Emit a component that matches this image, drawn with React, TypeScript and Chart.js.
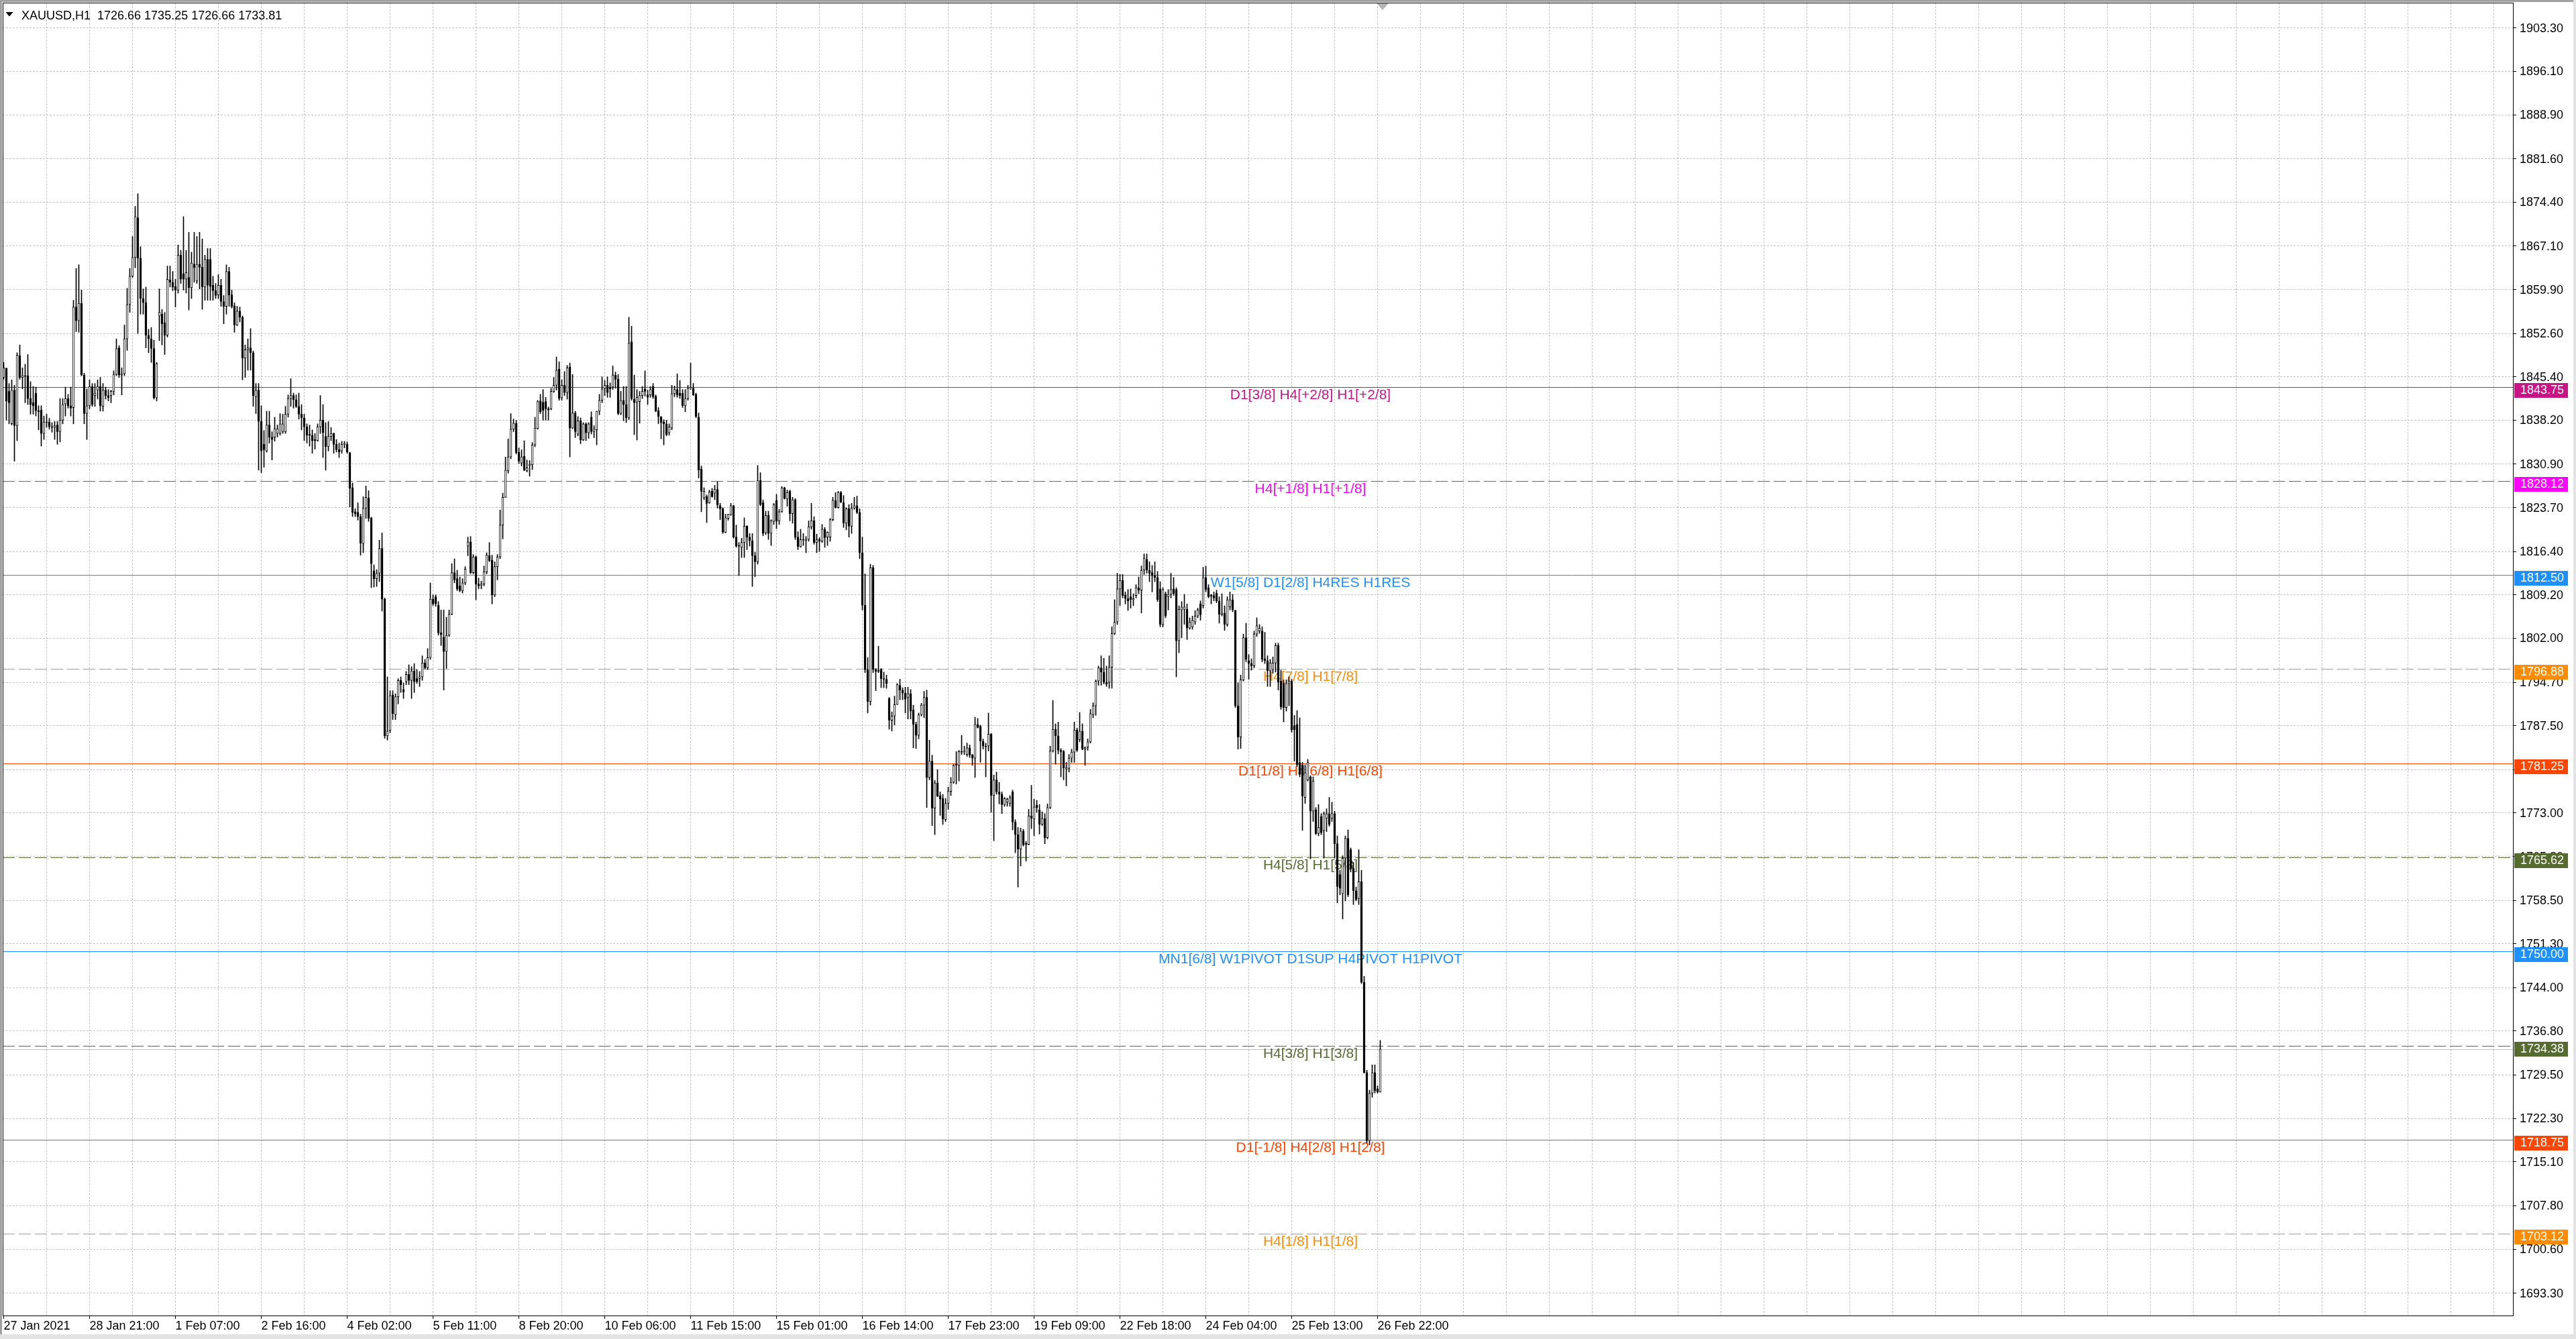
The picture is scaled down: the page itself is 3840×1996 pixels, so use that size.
import React, { useEffect, useRef } from 'react';
import { Chart, registerables } from 'chart.js';

Chart.register(...registerables);

const symbolTitle = 'XAUUSD,H1';

// Hourly OHLC, bar 0 = 27 Jan 2021 ... bar 513 = 26 Feb 2021 23:00
const opens = [
  1845.3, 1846.8, 1843.0, 1837.6, 1843.2, 1837.3, 1848.9, 1845.3, 1845.6, 1845.6,
  1841.8, 1841.1, 1842.7, 1839.8, 1839.9, 1836.0, 1837.9, 1837.9, 1837.1, 1837.0,
  1837.4, 1836.3, 1838.2, 1840.9, 1841.8, 1840.6, 1840.3, 1857.0, 1854.7, 1857.6,
  1845.7, 1839.3, 1840.6, 1843.8, 1842.3, 1843.2, 1843.8, 1840.5, 1843.2, 1842.3,
  1842.3, 1843.0, 1845.8, 1850.2, 1845.7, 1845.9, 1851.7, 1857.4, 1862.1, 1865.2,
  1871.8, 1865.1, 1858.4, 1857.7, 1852.3, 1851.7, 1850.1, 1841.9, 1855.5, 1855.8,
  1854.4, 1852.3, 1861.5, 1861.1, 1860.4, 1859.8, 1865.6, 1862.5, 1861.6, 1861.9,
  1860.2, 1864.1, 1861.3, 1864.1, 1863.6, 1860.3, 1864.9, 1864.9, 1860.6, 1859.7,
  1859.0, 1860.6, 1857.9, 1857.1, 1862.9, 1859.0, 1857.2, 1854.0, 1856.3, 1855.3,
  1848.5, 1849.9, 1850.2, 1849.4, 1842.1, 1843.2, 1838.0, 1834.2, 1833.1, 1837.4,
  1835.4, 1835.4, 1836.0, 1836.0, 1836.3, 1836.3, 1839.2, 1841.8, 1842.3, 1841.6,
  1840.5, 1839.2, 1838.6, 1837.1, 1835.9, 1835.7, 1835.0, 1834.8, 1837.1, 1838.2,
  1835.5, 1833.8, 1835.5, 1836.0, 1834.2, 1833.3, 1833.1, 1834.2, 1834.2, 1832.8,
  1827.0, 1823.0, 1822.9, 1822.2, 1817.7, 1823.6, 1825.3, 1822.0, 1813.2, 1811.9,
  1812.8, 1816.9, 1808.5, 1785.8, 1786.7, 1792.6, 1789.3, 1792.3, 1795.0, 1793.5,
  1794.8, 1796.0, 1795.0, 1796.6, 1795.3, 1795.3, 1795.6, 1797.9, 1797.1, 1798.8,
  1808.5, 1808.9, 1807.5, 1802.9, 1802.2, 1799.8, 1802.5, 1806.0, 1812.9, 1811.9,
  1810.7, 1809.9, 1811.2, 1817.3, 1818.0, 1812.9, 1815.5, 1811.0, 1810.8, 1811.0,
  1813.0, 1815.7, 1815.0, 1809.2, 1813.9, 1815.5, 1820.8, 1825.4, 1829.8, 1832.1,
  1836.7, 1837.7, 1832.9, 1831.1, 1832.2, 1829.8, 1830.7, 1830.8, 1834.1, 1836.8,
  1841.4, 1841.2, 1841.3, 1840.1, 1840.1, 1843.0, 1844.0, 1846.7, 1841.9, 1844.0,
  1842.8, 1847.0, 1836.9, 1839.4, 1835.9, 1838.1, 1834.9, 1837.6, 1836.1, 1838.7,
  1836.3, 1836.6, 1839.7, 1841.5, 1843.4, 1844.0, 1843.7, 1843.7, 1845.7, 1845.0,
  1839.3, 1841.5, 1840.8, 1838.6, 1851.2, 1841.7, 1841.2, 1841.3, 1842.3, 1843.4,
  1842.4, 1842.4, 1843.8, 1842.2, 1839.8, 1838.8, 1837.9, 1837.6, 1836.1, 1836.9,
  1842.6, 1843.3, 1842.7, 1842.7, 1840.6, 1841.8, 1843.5, 1843.5, 1842.5, 1838.7,
  1830.1, 1825.3, 1825.5, 1824.5, 1826.4, 1826.1, 1826.7, 1824.0, 1823.5, 1819.6,
  1821.9, 1822.5, 1824.0, 1818.8, 1817.4, 1817.1, 1817.9, 1820.6, 1818.8, 1818.2,
  1815.7, 1814.7, 1828.2, 1824.5, 1819.5, 1822.4, 1819.4, 1821.4, 1824.9, 1821.5,
  1823.0, 1827.0, 1825.1, 1826.4, 1822.7, 1825.0, 1818.8, 1817.2, 1818.4, 1818.2,
  1818.4, 1820.5, 1821.5, 1817.9, 1818.4, 1818.1, 1820.1, 1818.8, 1818.8, 1821.7,
  1824.9, 1823.7, 1826.2, 1824.5, 1821.1, 1823.5, 1820.6, 1823.6, 1824.0, 1822.9,
  1816.2, 1807.5, 1796.8, 1791.5, 1813.7, 1796.8, 1796.5, 1796.8, 1795.3, 1795.2,
  1792.0, 1788.4, 1789.1, 1791.0, 1794.2, 1793.4, 1792.9, 1792.2, 1792.8, 1790.1,
  1787.7, 1785.9, 1789.3, 1790.9, 1792.2, 1778.9, 1781.6, 1773.8, 1778.0, 1775.9,
  1775.4, 1771.9, 1774.6, 1776.6, 1778.1, 1781.1, 1780.9, 1783.2, 1783.2, 1782.7,
  1783.8, 1782.7, 1782.1, 1787.7, 1787.4, 1784.9, 1784.1, 1784.1, 1786.1, 1775.9,
  1778.5, 1776.5, 1776.1, 1774.4, 1774.8, 1774.6, 1776.5, 1771.5, 1769.4, 1767.0,
  1770.0, 1768.0, 1767.8, 1772.5, 1772.0, 1774.3, 1773.5, 1771.1, 1772.1, 1768.9,
  1773.9, 1783.3, 1786.9, 1785.8, 1783.4, 1783.2, 1780.3, 1780.4, 1782.1, 1783.1,
  1786.8, 1785.2, 1786.6, 1783.6, 1783.9, 1784.8, 1789.3, 1790.8, 1794.9, 1797.1,
  1796.4, 1794.7, 1794.7, 1797.2, 1802.8, 1804.7, 1810.2, 1811.6, 1809.2, 1808.6,
  1808.9, 1808.4, 1809.1, 1810.4, 1810.0, 1813.3, 1815.1, 1813.3, 1812.9, 1812.4,
  1812.1, 1810.2, 1804.3, 1809.4, 1808.9, 1809.3, 1810.2, 1810.1, 1801.6, 1806.7,
  1806.8, 1806.8, 1803.7, 1803.9, 1804.7, 1805.7, 1807.7, 1807.4, 1812.1, 1810.4,
  1809.2, 1809.1, 1809.5, 1808.2, 1806.0, 1806.2, 1804.3, 1807.2, 1808.4, 1806.6,
  1790.8, 1785.6, 1795.1, 1802.1, 1798.3, 1797.8, 1797.4, 1802.7, 1803.2, 1803.2,
  1798.6, 1798.3, 1796.6, 1796.8, 1797.9, 1800.8, 1794.9, 1794.5, 1790.5, 1794.5,
  1794.9, 1787.5, 1787.7, 1781.4, 1781.0, 1775.6, 1778.5, 1779.0, 1773.3, 1773.5,
  1769.6, 1772.4, 1770.1, 1772.1, 1772.9, 1772.1, 1772.9, 1767.9, 1762.8, 1759.6,
  1765.5, 1768.8, 1766.9, 1763.8, 1760.1, 1758.8, 1761.6, 1744.9, 1729.9, 1718.6,
  1726.5, 1729.9, 1727.2, 1726.66,
];

const highs = [
  1847.8, 1846.9, 1844.3, 1844.9, 1844.0, 1849.4, 1850.7, 1846.9, 1847.5, 1849.1,
  1844.6, 1843.8, 1843.7, 1840.6, 1840.6, 1838.9, 1839.2, 1838.5, 1837.8, 1838.0,
  1838.0, 1841.8, 1841.8, 1843.7, 1842.5, 1843.7, 1858.1, 1863.4, 1864.0, 1859.8,
  1846.0, 1843.4, 1844.9, 1844.3, 1844.3, 1844.9, 1845.3, 1844.3, 1843.7, 1843.3,
  1843.2, 1846.4, 1851.7, 1850.6, 1846.9, 1854.0, 1860.1, 1863.4, 1868.7, 1873.7,
  1875.8, 1867.0, 1860.0, 1860.3, 1853.3, 1853.6, 1851.5, 1847.8, 1860.0, 1856.6,
  1856.1, 1863.8, 1863.8, 1862.9, 1861.6, 1867.3, 1866.4, 1872.0, 1866.4, 1869.4,
  1866.1, 1869.4, 1868.7, 1869.4, 1868.3, 1865.6, 1866.7, 1866.7, 1862.1, 1860.9,
  1862.4, 1861.6, 1858.9, 1864.0, 1863.6, 1859.8, 1857.7, 1857.1, 1857.0, 1855.5,
  1850.7, 1851.7, 1853.4, 1849.7, 1844.3, 1844.3, 1840.6, 1836.5, 1839.7, 1839.7,
  1836.3, 1838.7, 1837.4, 1839.3, 1839.2, 1840.5, 1842.4, 1845.1, 1842.7, 1842.4,
  1842.7, 1840.8, 1839.2, 1837.6, 1837.4, 1836.6, 1836.0, 1837.6, 1842.3, 1840.8,
  1837.8, 1838.0, 1837.0, 1836.1, 1835.0, 1834.4, 1834.7, 1834.7, 1834.6, 1832.9,
  1827.8, 1823.5, 1824.5, 1822.6, 1825.5, 1827.3, 1826.5, 1822.1, 1814.2, 1813.4,
  1818.3, 1819.5, 1808.7, 1795.6, 1793.3, 1793.3, 1792.8, 1795.3, 1795.6, 1794.6,
  1796.5, 1797.6, 1797.3, 1797.8, 1796.8, 1796.5, 1799.1, 1798.5, 1800.3, 1811.2,
  1809.2, 1809.2, 1808.1, 1806.7, 1806.7, 1805.5, 1806.7, 1814.4, 1815.2, 1813.3,
  1812.2, 1811.9, 1813.9, 1818.8, 1818.9, 1815.9, 1815.7, 1812.0, 1811.5, 1814.0,
  1816.2, 1817.9, 1815.8, 1814.7, 1815.9, 1823.3, 1826.1, 1832.1, 1835.1, 1839.3,
  1838.4, 1838.2, 1833.6, 1833.3, 1834.8, 1831.6, 1831.5, 1834.5, 1838.7, 1841.5,
  1842.5, 1843.3, 1842.0, 1840.4, 1843.5, 1845.3, 1848.7, 1847.9, 1844.9, 1846.3,
  1847.3, 1847.7, 1845.8, 1839.7, 1838.8, 1838.6, 1837.8, 1837.8, 1837.8, 1839.6,
  1837.3, 1839.7, 1842.5, 1845.4, 1844.8, 1845.4, 1844.4, 1847.2, 1846.2, 1845.8,
  1843.0, 1843.8, 1843.8, 1855.3, 1853.8, 1845.7, 1843.3, 1843.0, 1843.8, 1846.4,
  1843.2, 1843.8, 1844.3, 1842.4, 1840.3, 1838.8, 1838.3, 1838.2, 1837.6, 1844.0,
  1843.9, 1845.9, 1844.8, 1843.3, 1843.3, 1844.0, 1847.7, 1844.3, 1842.7, 1839.4,
  1830.6, 1827.0, 1825.8, 1826.6, 1826.9, 1827.4, 1828.0, 1824.4, 1823.7, 1822.6,
  1822.6, 1824.4, 1824.1, 1820.8, 1817.9, 1818.6, 1822.0, 1820.7, 1819.4, 1819.4,
  1816.3, 1830.7, 1829.5, 1825.0, 1823.1, 1823.1, 1821.7, 1824.4, 1825.9, 1823.4,
  1827.2, 1827.1, 1826.6, 1826.6, 1825.4, 1825.2, 1819.7, 1820.1, 1819.4, 1818.9,
  1821.5, 1824.4, 1822.2, 1819.3, 1818.7, 1820.9, 1820.4, 1819.7, 1821.9, 1825.4,
  1826.2, 1826.4, 1826.4, 1825.7, 1823.7, 1824.2, 1824.4, 1825.4, 1825.6, 1823.5,
  1818.8, 1812.7, 1798.8, 1814.3, 1814.1, 1797.0, 1800.7, 1797.0, 1796.4, 1795.9,
  1792.2, 1789.8, 1792.4, 1794.5, 1795.2, 1793.8, 1793.9, 1793.9, 1793.5, 1790.9,
  1788.1, 1789.6, 1791.2, 1793.2, 1793.4, 1785.1, 1782.6, 1778.4, 1780.2, 1776.5,
  1776.1, 1775.4, 1777.3, 1778.9, 1781.1, 1783.2, 1783.4, 1785.9, 1784.1, 1784.6,
  1784.3, 1782.7, 1788.9, 1788.7, 1787.6, 1785.3, 1784.6, 1789.6, 1786.2, 1779.3,
  1779.8, 1778.1, 1776.5, 1775.6, 1775.5, 1775.9, 1776.8, 1771.9, 1770.6, 1770.5,
  1770.3, 1768.3, 1773.6, 1777.6, 1775.3, 1775.1, 1774.4, 1773.2, 1772.9, 1774.5,
  1784.1, 1791.7, 1787.8, 1788.1, 1783.7, 1783.4, 1781.4, 1782.7, 1783.6, 1788.1,
  1787.1, 1789.7, 1787.8, 1784.0, 1785.3, 1790.2, 1791.3, 1795.1, 1797.4, 1799.1,
  1798.7, 1797.4, 1799.1, 1803.9, 1808.4, 1812.8, 1812.6, 1812.6, 1809.7, 1810.1,
  1810.2, 1809.4, 1810.9, 1812.2, 1814.0, 1816.0, 1816.0, 1814.7, 1814.1, 1814.7,
  1813.1, 1811.4, 1810.4, 1809.7, 1810.1, 1812.8, 1812.1, 1810.4, 1807.4, 1808.1,
  1809.3, 1807.7, 1805.4, 1805.7, 1806.6, 1807.0, 1808.2, 1813.8, 1814.0, 1810.9,
  1809.3, 1809.7, 1810.0, 1808.9, 1809.4, 1807.4, 1808.9, 1809.7, 1809.3, 1806.7,
  1794.6, 1795.9, 1802.7, 1804.5, 1799.3, 1798.6, 1803.2, 1805.4, 1804.3, 1803.9,
  1803.0, 1799.1, 1798.5, 1798.9, 1801.2, 1801.2, 1796.7, 1795.1, 1795.1, 1795.6,
  1795.2, 1789.2, 1790.0, 1788.8, 1781.4, 1781.0, 1781.9, 1779.2, 1779.0, 1773.9,
  1774.4, 1772.9, 1773.2, 1773.7, 1775.6, 1774.8, 1773.3, 1769.2, 1763.5, 1765.9,
  1769.2, 1770.2, 1767.2, 1764.8, 1760.7, 1766.9, 1763.5, 1745.9, 1730.3, 1727.0,
  1731.2, 1731.2, 1727.7, 1735.25,
];

const lows = [
  1845.0, 1838.2, 1837.6, 1837.4, 1831.4, 1834.8, 1845.0, 1843.4, 1841.1, 1840.8,
  1839.2, 1839.2, 1838.9, 1836.6, 1833.9, 1835.0, 1837.0, 1836.7, 1836.2, 1835.0,
  1834.2, 1834.6, 1837.6, 1838.9, 1840.2, 1838.9, 1837.6, 1852.9, 1852.8, 1845.6,
  1837.6, 1835.0, 1840.1, 1840.5, 1840.5, 1841.7, 1839.7, 1839.7, 1841.7, 1841.4,
  1841.1, 1842.4, 1845.6, 1845.3, 1842.4, 1845.6, 1849.8, 1856.1, 1861.9, 1863.5,
  1852.6, 1855.8, 1855.8, 1850.2, 1849.4, 1847.8, 1841.7, 1841.4, 1851.4, 1850.7,
  1849.1, 1852.0, 1860.3, 1859.7, 1857.0, 1859.3, 1860.9, 1859.8, 1859.3, 1856.5,
  1858.4, 1861.1, 1860.9, 1860.0, 1856.6, 1858.1, 1858.1, 1858.1, 1858.1, 1858.4,
  1858.4, 1857.1, 1854.2, 1855.8, 1857.1, 1856.8, 1852.8, 1853.9, 1854.5, 1844.9,
  1845.3, 1846.5, 1846.5, 1840.5, 1839.3, 1829.9, 1829.5, 1830.4, 1832.9, 1834.4,
  1831.6, 1834.7, 1835.4, 1835.7, 1836.0, 1836.0, 1838.7, 1840.5, 1840.2, 1840.3,
  1838.4, 1836.6, 1834.8, 1834.4, 1833.9, 1832.7, 1833.4, 1834.7, 1836.0, 1832.0,
  1829.9, 1833.1, 1834.8, 1832.7, 1832.9, 1832.0, 1832.7, 1833.6, 1832.7, 1823.8,
  1822.2, 1822.2, 1821.6, 1815.8, 1816.2, 1821.9, 1821.4, 1810.4, 1810.5, 1810.6,
  1811.4, 1806.5, 1785.4, 1785.1, 1786.3, 1788.5, 1788.5, 1791.1, 1793.0, 1792.0,
  1794.3, 1794.3, 1792.0, 1793.0, 1794.5, 1794.0, 1795.0, 1796.9, 1796.8, 1798.5,
  1807.4, 1807.3, 1802.5, 1800.8, 1793.4, 1797.0, 1802.3, 1805.9, 1811.2, 1809.9,
  1809.7, 1809.5, 1810.9, 1815.7, 1812.7, 1812.7, 1808.4, 1810.2, 1810.2, 1810.7,
  1812.7, 1814.7, 1807.7, 1808.9, 1811.7, 1815.2, 1818.5, 1825.4, 1829.4, 1831.8,
  1836.3, 1832.6, 1831.0, 1830.6, 1829.8, 1829.6, 1828.9, 1830.0, 1833.8, 1836.7,
  1839.3, 1838.2, 1838.2, 1838.2, 1839.9, 1842.8, 1843.2, 1841.5, 1841.5, 1842.3,
  1841.7, 1832.1, 1836.8, 1835.3, 1835.6, 1834.3, 1834.8, 1834.8, 1835.2, 1835.9,
  1835.3, 1834.1, 1839.1, 1841.1, 1842.3, 1842.0, 1842.0, 1843.3, 1843.5, 1839.1,
  1839.1, 1838.1, 1837.8, 1838.3, 1841.5, 1835.8, 1834.9, 1837.7, 1841.8, 1842.2,
  1840.8, 1842.0, 1841.8, 1839.6, 1837.6, 1835.1, 1834.1, 1835.6, 1835.7, 1836.6,
  1842.1, 1842.0, 1841.8, 1840.3, 1839.6, 1841.5, 1843.3, 1842.3, 1838.6, 1828.6,
  1823.0, 1825.0, 1821.2, 1824.4, 1825.4, 1825.0, 1823.6, 1821.7, 1819.4, 1819.5,
  1821.6, 1822.4, 1818.6, 1817.1, 1812.4, 1815.4, 1815.4, 1816.7, 1817.3, 1810.6,
  1812.2, 1814.3, 1824.0, 1819.0, 1819.2, 1818.4, 1817.4, 1820.9, 1820.2, 1820.9,
  1822.9, 1825.1, 1823.9, 1821.5, 1821.1, 1818.4, 1816.7, 1817.1, 1817.4, 1816.2,
  1818.1, 1820.1, 1817.6, 1816.2, 1816.4, 1817.9, 1817.1, 1817.4, 1818.1, 1821.5,
  1823.6, 1823.6, 1824.5, 1820.4, 1820.0, 1818.8, 1819.4, 1823.4, 1822.7, 1815.2,
  1806.7, 1796.3, 1789.6, 1790.9, 1796.3, 1793.3, 1796.3, 1793.8, 1793.8, 1793.7,
  1786.9, 1786.6, 1787.6, 1791.0, 1791.8, 1791.8, 1789.6, 1788.6, 1788.6, 1783.8,
  1783.7, 1785.3, 1789.1, 1788.8, 1773.9, 1778.5, 1770.9, 1769.4, 1775.7, 1772.6,
  1771.1, 1771.6, 1773.6, 1775.9, 1777.9, 1777.8, 1778.3, 1782.7, 1782.7, 1782.4,
  1782.2, 1780.9, 1778.9, 1787.1, 1781.4, 1783.6, 1779.0, 1783.3, 1773.1, 1768.4,
  1776.1, 1774.5, 1772.9, 1774.1, 1774.1, 1774.1, 1770.2, 1766.4, 1760.7, 1764.2,
  1767.5, 1765.0, 1767.7, 1770.4, 1769.2, 1773.1, 1769.5, 1770.9, 1767.9, 1768.7,
  1773.7, 1783.1, 1781.1, 1782.8, 1779.0, 1778.5, 1777.5, 1779.8, 1781.4, 1781.4,
  1783.2, 1784.8, 1783.5, 1780.9, 1783.4, 1784.6, 1788.8, 1789.2, 1794.2, 1794.2,
  1794.4, 1794.0, 1793.7, 1793.7, 1802.6, 1804.3, 1807.4, 1808.7, 1807.7, 1806.6,
  1807.0, 1807.4, 1808.7, 1809.4, 1806.2, 1812.6, 1812.8, 1811.4, 1809.7, 1811.4,
  1808.1, 1803.9, 1803.9, 1805.4, 1806.7, 1808.7, 1809.1, 1795.6, 1799.6, 1802.1,
  1804.3, 1801.8, 1803.5, 1803.5, 1804.3, 1805.4, 1805.0, 1807.0, 1809.7, 1808.7,
  1807.7, 1808.2, 1807.9, 1804.5, 1805.7, 1803.3, 1804.0, 1806.7, 1806.4, 1790.5,
  1783.6, 1783.7, 1794.9, 1798.1, 1795.2, 1796.7, 1797.1, 1802.3, 1802.8, 1798.1,
  1797.8, 1794.0, 1794.0, 1796.2, 1796.4, 1793.4, 1790.2, 1788.1, 1789.9, 1790.8,
  1786.4, 1781.6, 1780.7, 1779.0, 1770.1, 1774.6, 1778.3, 1765.4, 1771.6, 1769.4,
  1769.2, 1769.4, 1765.5, 1769.9, 1770.8, 1771.6, 1765.5, 1758.1, 1759.4, 1755.4,
  1758.4, 1759.1, 1763.2, 1757.8, 1758.4, 1757.8, 1744.7, 1729.8, 1718.2, 1717.9,
  1725.8, 1726.5, 1726.5, 1726.66,
];

const closes = [
  1846.9, 1841.4, 1841.1, 1843.2, 1837.3, 1849.0, 1845.3, 1845.6, 1845.5, 1841.8,
  1840.8, 1840.6, 1839.8, 1839.6, 1836.0, 1837.9, 1837.8, 1837.1, 1837.0, 1837.3,
  1836.3, 1838.2, 1840.8, 1841.8, 1840.6, 1840.2, 1857.0, 1854.7, 1857.6, 1845.7,
  1839.3, 1840.6, 1843.8, 1840.8, 1842.7, 1843.8, 1840.6, 1843.2, 1842.3, 1841.9,
  1843.0, 1845.8, 1850.1, 1845.7, 1845.9, 1851.7, 1857.4, 1862.1, 1865.2, 1872.0,
  1865.1, 1858.4, 1857.7, 1852.3, 1851.7, 1850.1, 1841.9, 1847.6, 1856.1, 1854.2,
  1852.3, 1861.6, 1861.1, 1860.3, 1859.8, 1865.6, 1861.6, 1861.6, 1862.7, 1860.2,
  1864.3, 1863.5, 1864.1, 1863.6, 1860.3, 1864.9, 1860.6, 1860.4, 1859.7, 1858.9,
  1860.6, 1857.9, 1857.1, 1862.9, 1859.0, 1857.1, 1854.0, 1856.3, 1855.3, 1848.5,
  1849.9, 1850.2, 1849.4, 1842.3, 1843.2, 1838.0, 1833.1, 1833.3, 1837.4, 1835.4,
  1835.0, 1836.8, 1836.8, 1837.6, 1837.6, 1839.2, 1841.8, 1842.3, 1841.6, 1840.5,
  1839.2, 1838.6, 1837.1, 1835.7, 1835.7, 1834.8, 1834.8, 1837.1, 1838.2, 1836.1,
  1833.8, 1835.5, 1836.0, 1834.2, 1833.3, 1832.9, 1834.2, 1834.4, 1832.9, 1826.9,
  1822.9, 1822.7, 1822.2, 1817.8, 1823.6, 1825.4, 1821.9, 1814.4, 1811.9, 1812.8,
  1816.9, 1808.5, 1785.8, 1786.6, 1792.5, 1789.5, 1792.3, 1795.0, 1794.3, 1793.1,
  1796.0, 1795.0, 1796.6, 1794.8, 1794.8, 1795.6, 1797.9, 1797.1, 1798.8, 1808.5,
  1807.7, 1807.7, 1802.9, 1802.6, 1799.8, 1802.5, 1806.0, 1812.9, 1811.7, 1810.2,
  1809.9, 1811.2, 1813.5, 1818.0, 1812.9, 1815.5, 1811.0, 1810.7, 1811.0, 1813.0,
  1815.8, 1814.9, 1809.2, 1813.9, 1815.5, 1820.8, 1825.4, 1829.9, 1832.1, 1836.7,
  1837.7, 1832.8, 1831.4, 1832.1, 1829.9, 1830.3, 1830.9, 1834.1, 1836.9, 1841.3,
  1839.6, 1839.8, 1840.1, 1839.9, 1843.0, 1844.0, 1846.5, 1841.8, 1844.0, 1842.8,
  1846.9, 1836.9, 1839.4, 1836.3, 1838.1, 1834.9, 1837.6, 1836.1, 1837.6, 1836.3,
  1836.7, 1839.7, 1841.5, 1843.4, 1844.0, 1842.8, 1843.4, 1845.7, 1845.0, 1839.3,
  1841.5, 1840.8, 1838.6, 1851.0, 1841.8, 1841.1, 1842.0, 1842.3, 1843.0, 1843.0,
  1842.0, 1843.3, 1842.1, 1839.7, 1838.8, 1837.8, 1837.6, 1835.8, 1837.1, 1842.6,
  1843.3, 1842.4, 1842.3, 1840.6, 1841.8, 1843.5, 1843.6, 1842.4, 1838.8, 1829.9,
  1826.4, 1826.4, 1824.4, 1826.3, 1825.5, 1826.7, 1824.1, 1823.5, 1819.6, 1822.0,
  1822.6, 1824.0, 1818.8, 1817.3, 1817.3, 1817.9, 1820.6, 1818.8, 1818.2, 1815.7,
  1814.7, 1828.2, 1824.2, 1819.4, 1822.4, 1819.4, 1821.5, 1824.2, 1821.4, 1823.0,
  1827.0, 1825.2, 1826.2, 1822.7, 1825.0, 1818.8, 1817.2, 1818.4, 1818.3, 1818.4,
  1820.5, 1821.5, 1817.9, 1818.4, 1818.1, 1820.1, 1818.7, 1819.6, 1821.7, 1824.9,
  1823.7, 1826.2, 1824.6, 1821.1, 1823.5, 1820.6, 1823.6, 1824.0, 1822.9, 1816.2,
  1807.5, 1796.8, 1791.5, 1813.7, 1796.8, 1796.5, 1796.7, 1795.3, 1795.2, 1794.5,
  1788.4, 1789.1, 1791.0, 1794.3, 1793.4, 1792.9, 1791.9, 1792.8, 1789.9, 1787.7,
  1785.9, 1789.3, 1790.9, 1792.2, 1778.9, 1781.6, 1773.8, 1778.0, 1775.8, 1775.3,
  1772.0, 1774.6, 1776.6, 1778.1, 1780.9, 1780.9, 1783.2, 1783.1, 1783.3, 1783.8,
  1782.6, 1782.1, 1787.7, 1787.2, 1784.9, 1784.1, 1784.0, 1786.1, 1775.9, 1778.5,
  1776.5, 1776.1, 1774.4, 1775.4, 1775.3, 1775.5, 1771.5, 1769.4, 1767.0, 1770.0,
  1767.7, 1767.8, 1772.5, 1772.1, 1774.0, 1773.9, 1771.1, 1772.1, 1768.9, 1773.9,
  1783.3, 1786.9, 1785.8, 1783.4, 1783.2, 1780.5, 1780.5, 1782.1, 1783.1, 1786.8,
  1783.4, 1786.6, 1783.6, 1783.9, 1784.8, 1789.5, 1790.8, 1794.9, 1797.1, 1796.4,
  1794.7, 1794.4, 1797.2, 1802.8, 1804.7, 1810.2, 1811.6, 1809.1, 1808.6, 1808.2,
  1808.4, 1808.6, 1810.4, 1810.0, 1813.3, 1815.3, 1813.3, 1812.8, 1812.4, 1812.1,
  1808.4, 1804.3, 1810.1, 1805.7, 1809.3, 1810.1, 1809.4, 1801.6, 1806.8, 1807.2,
  1807.2, 1803.7, 1804.7, 1805.0, 1805.7, 1806.7, 1805.9, 1812.1, 1810.1, 1808.9,
  1809.0, 1808.7, 1808.2, 1806.0, 1806.2, 1804.3, 1808.4, 1808.4, 1806.7, 1790.8,
  1785.6, 1795.1, 1802.1, 1798.5, 1797.8, 1797.4, 1802.7, 1804.1, 1803.7, 1798.5,
  1798.3, 1796.6, 1797.9, 1797.9, 1800.8, 1794.7, 1790.6, 1790.5, 1794.5, 1794.9,
  1786.8, 1786.8, 1781.0, 1779.4, 1775.8, 1779.7, 1781.4, 1773.3, 1778.3, 1769.6,
  1770.6, 1769.7, 1772.9, 1772.9, 1771.1, 1772.9, 1767.9, 1760.8, 1760.5, 1765.5,
  1768.8, 1759.4, 1763.8, 1760.1, 1758.6, 1761.6, 1744.9, 1729.9, 1718.6, 1726.5,
  1729.9, 1726.9, 1726.7, 1733.81,
];

// time-axis labels, one every 32 bars starting at bar 0
const timeLabels = [
  '27 Jan 2021', '28 Jan 21:00', '1 Feb 07:00', '2 Feb 16:00', '4 Feb 02:00',
  '5 Feb 11:00', '8 Feb 20:00', '10 Feb 06:00', '11 Feb 15:00', '15 Feb 01:00',
  '16 Feb 14:00', '17 Feb 23:00', '19 Feb 09:00', '22 Feb 18:00', '24 Feb 04:00',
  '25 Feb 13:00', '26 Feb 22:00',
];

const priceTicks = [
  1903.3, 1896.1, 1888.9, 1881.6, 1874.4, 1867.1, 1859.9, 1852.6, 1845.4, 1838.2,
  1830.9, 1823.7, 1816.4, 1809.2, 1802.0, 1794.7, 1787.5, 1780.2, 1773.0, 1765.8,
  1758.5, 1751.3, 1744.0, 1736.8, 1729.5, 1722.3, 1715.1, 1707.8, 1700.6, 1693.3,
];

const levelPrices = [1843.75, 1828.12, 1812.5, 1796.88, 1781.25, 1765.62, 1750.0, 1734.38, 1718.75, 1703.12];
const levelTexts = [
  'D1[3/8] H4[+2/8] H1[+2/8]',
  'H4[+1/8] H1[+1/8]',
  'W1[5/8] D1[2/8] H4RES H1RES',
  'H4[7/8] H1[7/8]',
  'D1[1/8] H4[6/8] H1[6/8]',
  'H4[5/8] H1[5/8]',
  'MN1[6/8] W1PIVOT D1SUP H4PIVOT H1PIVOT',
  'H4[3/8] H1[3/8]',
  'D1[-1/8] H4[2/8] H1[2/8]',
  'H4[1/8] H1[1/8]',
];
const bidPrice = 1733.81;

// styles
const levelColors = ['#C71585', '#FF00FF', '#1E90FF', '#FF8C00', '#FF4500', '#556B2F', '#1E90FF', '#556B2F', '#FF4500', '#FF8C00'];
const levelDashed = [false, true, false, true, false, true, false, true, false, true];
const FONT = '"Liberation Sans", Arial, Helvetica, sans-serif';
const LABEL_BAR = 487;
const GRID_COLOR = '#c4c4c4';

export default function App() {
  const ref = useRef<HTMLCanvasElement | null>(null);

  useEffect(() => {
    const canvas = ref.current;
    if (!canvas) return;
    const idx = closes.map((_, i) => i);
    const last = closes.length - 1;
    const bodyColors = idx.map((i) => (closes[i] >= opens[i] ? '#ffffff' : '#000000'));
    const gridBars: number[] = [];
    for (let b = 0; b <= 928; b += 16) gridBars.push(b);
    const labelAt = (v: number) => (v % 32 === 0 && v / 32 < timeLabels.length ? timeLabels[v / 32] : '');

    const overlay = {
      id: 'mt4Overlay',
      beforeDatasetsDraw(chart: any) {
        const { ctx, chartArea: a, scales } = chart;
        const ys = scales.y;
        const xs = scales.x;
        ctx.save();
        ctx.beginPath();
        ctx.rect(a.left, a.top, a.right - a.left, a.bottom - a.top);
        ctx.clip();
        ctx.lineWidth = 1;
        // bid line
        const by = Math.round(ys.getPixelForValue(bidPrice)) + 0.5;
        ctx.strokeStyle = '#c0c0c0';
        ctx.setLineDash([]);
        ctx.beginPath();
        ctx.moveTo(a.left, by);
        ctx.lineTo(a.right, by);
        ctx.stroke();
        levelPrices.forEach((p, k) => {
          const y = Math.round(ys.getPixelForValue(p)) + 0.5;
          ctx.strokeStyle = levelColors[k];
          ctx.setLineDash(levelDashed[k] ? [18, 6] : []);
          ctx.beginPath();
          ctx.moveTo(a.left, y);
          ctx.lineTo(a.right, y);
          ctx.stroke();
        });
        ctx.setLineDash([]);
        ctx.font = `21px ${FONT}`;
        ctx.textAlign = 'center';
        ctx.textBaseline = 'middle';
        const lx = xs.getPixelForValue(LABEL_BAR);
        levelPrices.forEach((p, k) => {
          ctx.fillStyle = levelColors[k];
          ctx.fillText(levelTexts[k], lx, Math.round(ys.getPixelForValue(p)) + 12);
        });
        ctx.restore();
      },
      afterDraw(chart: any) {
        const { ctx, chartArea: a, scales } = chart;
        const ys = scales.y;
        const xs = scales.x;
        ctx.save();
        ctx.setLineDash([]);
        // frame
        ctx.strokeStyle = '#000';
        ctx.lineWidth = 1;
        ctx.strokeRect(a.left + 0.5, a.top + 0.5, a.right - a.left - 1, a.bottom - a.top - 1);
        // level tags on the price axis
        ctx.font = `18px ${FONT}`;
        ctx.textAlign = 'left';
        ctx.textBaseline = 'middle';
        levelPrices.forEach((p, k) => {
          const y = Math.round(ys.getPixelForValue(p));
          ctx.fillStyle = levelColors[k];
          ctx.fillRect(a.right + 1, y - 6, 80, 22);
          ctx.fillStyle = '#ffffff';
          ctx.fillText(p.toFixed(2), a.right + 10, y + 5);
        });
        // header
        ctx.fillStyle = '#000';
        ctx.beginPath();
        ctx.moveTo(8.5, 18);
        ctx.lineTo(19.5, 18);
        ctx.lineTo(14, 24.5);
        ctx.closePath();
        ctx.fill();
        ctx.textBaseline = 'alphabetic';
        const header = `${symbolTitle}  ${opens[last].toFixed(2)} ${highs[last].toFixed(2)} ${lows[last].toFixed(2)} ${closes[last].toFixed(2)}`;
        ctx.fillText(header, 32, 29);
        // chart shift marker
        const sx = xs.getPixelForValue(last) + 3.5;
        ctx.fillStyle = '#b4b4b4';
        ctx.beginPath();
        ctx.moveTo(sx - 9, a.top + 1);
        ctx.lineTo(sx + 9, a.top + 1);
        ctx.lineTo(sx, a.top + 11);
        ctx.closePath();
        ctx.fill();
        // window edges
        ctx.fillStyle = '#a0a0a0';
        ctx.fillRect(0, 0, 3840, 3);
        ctx.fillRect(0, 0, 3, 1996);
        ctx.fillStyle = '#e3e3e3';
        ctx.fillRect(0, 1989, 3840, 7);
        ctx.fillRect(3836, 0, 4, 1996);
        ctx.restore();
      },
    };

    const chart = new Chart(canvas, {
      type: 'bar',
      data: {
        datasets: [
          {
            label: 'body',
            data: idx.map((i) => ({ x: i, y: [opens[i], closes[i]] })) as any,
            backgroundColor: bodyColors,
            borderColor: '#000000',
            borderWidth: 1,
            borderSkipped: false,
            barThickness: 3,
            grouped: false,
            minBarLength: 1,
            order: 0,
          },
          {
            label: 'wick',
            data: idx.map((i) => ({ x: i, y: [lows[i], highs[i]] })) as any,
            backgroundColor: '#000000',
            borderWidth: 0,
            barThickness: 1,
            grouped: false,
            order: 1,
          },
        ],
      } as any,
      options: {
        responsive: false,
        maintainAspectRatio: false,
        devicePixelRatio: 1,
        animation: false,
        events: [],
        layout: { padding: { left: 4, top: 4, right: 0, bottom: 0 } },
        plugins: { legend: { display: false }, tooltip: { enabled: false }, title: { display: false } },
        scales: {
          x: {
            type: 'linear',
            position: 'bottom',
            min: -0.375,
            max: 935.375,
            offset: false,
            bounds: 'data',
            afterBuildTicks: (axis: any) => {
              axis.ticks = gridBars.map((v) => ({ value: v }));
            },
            afterFit: (s: any) => {
              s.height = 34;
              s.paddingLeft = 0;
              s.paddingRight = 0;
            },
            ticks: {
              autoSkip: false,
              maxRotation: 0,
              minRotation: 0,
              align: 'start',
              padding: 0,
              color: '#000000',
              font: { family: FONT, size: 18 },
              callback: (v: any) => labelAt(Number(v)),
            },
            grid: {
              offset: false,
              color: (c: any) => (c.tick && c.tick.value === 0 ? 'rgba(0,0,0,0)' : GRID_COLOR),
              lineWidth: 1,
              drawTicks: true,
              tickLength: 4,
              tickColor: (c: any) => (c.tick && labelAt(c.tick.value) ? '#000000' : 'rgba(0,0,0,0)'),
              tickBorderDash: [],
            },
            border: { display: false, dash: [3, 2] },
          },
          y: {
            type: 'linear',
            position: 'right',
            min: 1689.47,
            max: 1907.51,
            bounds: 'data',
            afterBuildTicks: (axis: any) => {
              axis.ticks = priceTicks.map((v) => ({ value: v }));
            },
            afterFit: (s: any) => {
              s.width = 93;
              s.paddingTop = 0;
              s.paddingBottom = 0;
            },
            ticks: {
              autoSkip: false,
              padding: 5,
              labelOffset: 1,
              color: '#000000',
              font: { family: FONT, size: 18 },
              callback: (v: any) => Number(v).toFixed(2),
            },
            grid: {
              color: GRID_COLOR,
              lineWidth: 1,
              drawTicks: true,
              tickLength: 4,
              tickColor: '#000000',
              tickBorderDash: [],
            },
            border: { display: false, dash: [3, 2] },
          },
        },
      } as any,
      plugins: [overlay],
    });

    return () => {
      chart.destroy();
    };
  }, []);

  return (
    <div style={{ position: 'fixed', left: 0, top: 0, width: 3840, height: 1996, background: '#ffffff', overflow: 'hidden' }}>
      <canvas ref={ref} width={3840} height={1996} style={{ display: 'block', width: 3840, height: 1996 }} />
    </div>
  );
}
